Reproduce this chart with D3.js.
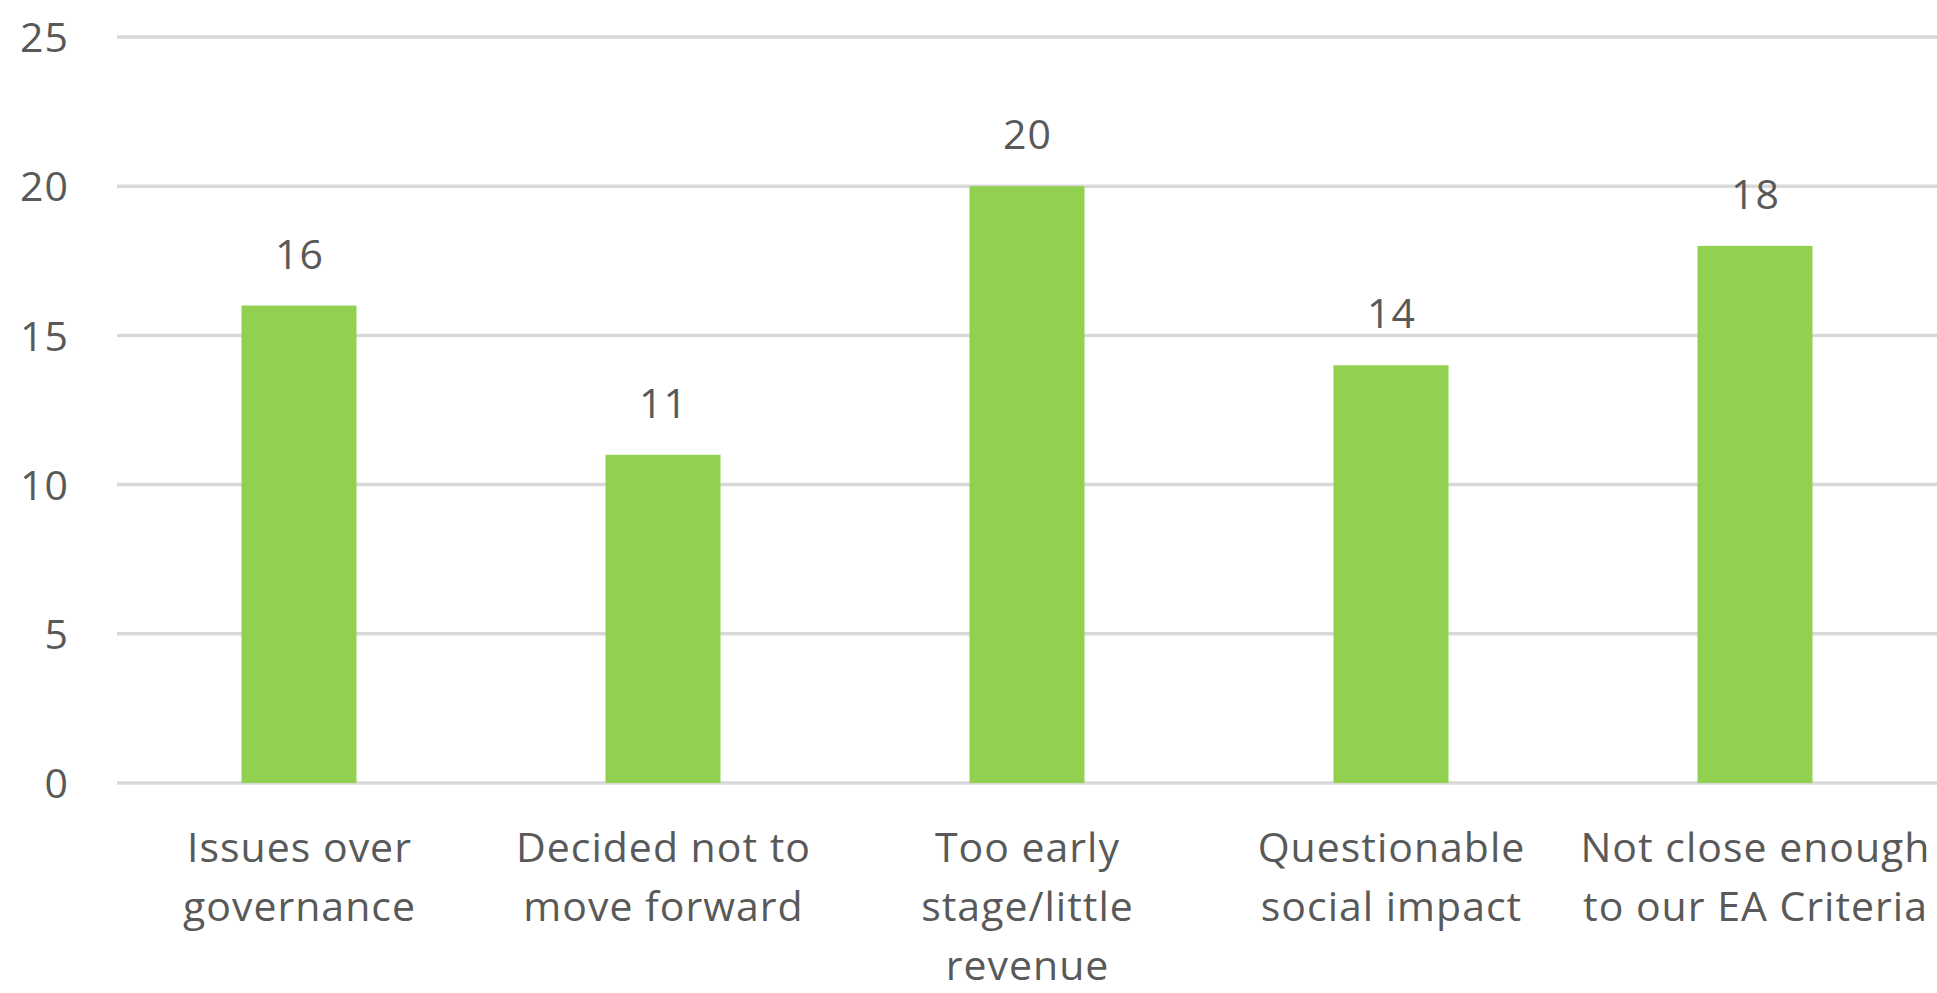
<!DOCTYPE html>
<html>
<head>
<meta charset="utf-8">
<script src="https://cdn.jsdelivr.net/npm/d3@7"></script>
<style>
  html, body { margin: 0; padding: 0; background: #fff; }
  svg { display: block; }
  text { font-family: "Open Sans", Lato, sans-serif; fill: #595959; letter-spacing: 1px; }
</style>
</head>
<body>
<svg id="chart" width="1937" height="993"></svg>
<script>
const categories = [
  ["Issues over", "governance"],
  ["Decided not to", "move forward"],
  ["Too early", "stage/little", "revenue"],
  ["Questionable", "social impact"],
  ["Not close enough", "to our EA Criteria"]
];
const values = [16, 11, 20, 14, 18];
const yTicks = [0, 5, 10, 15, 20, 25];

(function () {
const svg = d3.select("#chart");
const plotLeft = 117, plotRight = 1937, plotTop = 37, plotBottom = 783;
const fontSize = 41;

const x = d3.scaleBand()
  .domain(d3.range(values.length))
  .range([plotLeft, plotRight])
  .paddingInner(0.684)
  .paddingOuter(0.342);

const y = d3.scaleLinear().domain([0, 25]).range([plotBottom, plotTop]);

// gridlines
svg.append("g").selectAll("line").data(yTicks).join("line")
  .attr("x1", plotLeft).attr("x2", plotRight)
  .attr("y1", d => y(d)).attr("y2", d => y(d))
  .attr("stroke", "#d9d9d9").attr("stroke-width", 3.5);

// y axis labels
const yAxis = d3.axisLeft(y).tickValues(yTicks).tickSize(0).tickPadding(0);
const gy = svg.append("g").attr("transform", "translate(69,0)").call(yAxis);
gy.select(".domain").remove();
gy.attr("font-family", null).attr("font-size", null);
gy.selectAll("text")
  .attr("font-size", fontSize)
  .attr("fill", "#595959")
  .attr("dy", "0.36em");

// bars
svg.append("g").selectAll("rect").data(values).join("rect")
  .attr("x", (d, i) => x(i))
  .attr("width", x.bandwidth())
  .attr("y", d => y(d))
  .attr("height", d => y(0) - y(d))
  .attr("fill", "#92d050");

// value labels
svg.append("g").selectAll("text").data(values).join("text")
  .attr("x", (d, i) => x(i) + x.bandwidth() / 2 + 0.5)
  .attr("y", d => y(d) - 37)
  .attr("text-anchor", "middle")
  .attr("font-size", fontSize)
  .text(d => d);

// category labels
const cat = svg.append("g").selectAll("text").data(categories).join("text")
  .attr("x", (d, i) => x(i) + x.bandwidth() / 2 + 0.5)
  .attr("y", 862)
  .attr("text-anchor", "middle")
  .attr("font-size", fontSize);
cat.selectAll("tspan").data(d => d).join("tspan")
  .attr("x", function () { return d3.select(this.parentNode).attr("x"); })
  .attr("dy", (d, i) => i === 0 ? 0 : 59)
  .text(d => d);
})();
</script>
</body>
</html>
